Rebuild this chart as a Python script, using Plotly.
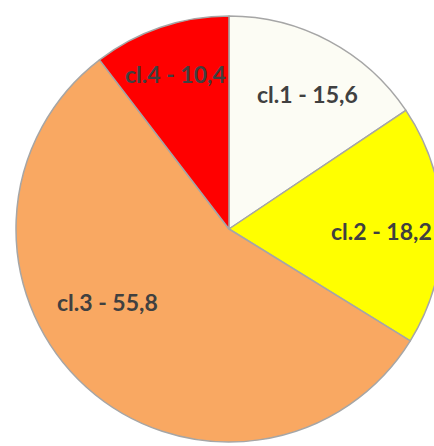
import plotly.graph_objects as go

classes = ["cl.1", "cl.2", "cl.3", "cl.4"]
shares = [15.6, 18.2, 55.8, 10.4]
share_labels = ["15,6", "18,2", "55,8", "10,4"]
colors = ["#FCFCF4", "#FFFF00", "#F9A862", "#FF0000"]

# figure size in px; wider than the window so the pie gets cut on the right
W, H = 458, 446
cx, cy, r = 229, 229, 213

# label centres in px (from top-left), one per slice
label_pos = [(307, 94), (381, 231), (107, 302), (175, 74)]

fig = go.Figure(
    go.Pie(
        labels=classes,
        values=shares,
        textinfo="none",
        sort=False,
        direction="clockwise",
        rotation=0,
        marker=dict(colors=colors, line=dict(color="#A6A6A6", width=1.5)),
        domain=dict(
            x=[(cx - r) / W, (cx + r) / W],
            y=[(H - cy - r) / H, (H - cy + r) / H],
        ),
        showlegend=False,
        hoverinfo="skip",
    )
)

for c, s, (px, py) in zip(classes, share_labels, label_pos):
    fig.add_annotation(
        text=f"{c} - {s}",
        x=px / W,
        y=1 - py / H,
        xref="paper",
        yref="paper",
        xanchor="center",
        yanchor="middle",
        showarrow=False,
        font=dict(family="Lato", size=23, color="#404040", weight="bold"),
    )

fig.update_layout(
    width=W,
    height=H,
    margin=dict(l=0, r=0, t=0, b=0),
    paper_bgcolor="white",
)

fig.write_html(
    "out.html",
    config={"displayModeBar": False},
    post_script="document.body.style.margin='0';document.body.style.overflow='hidden';",
)
